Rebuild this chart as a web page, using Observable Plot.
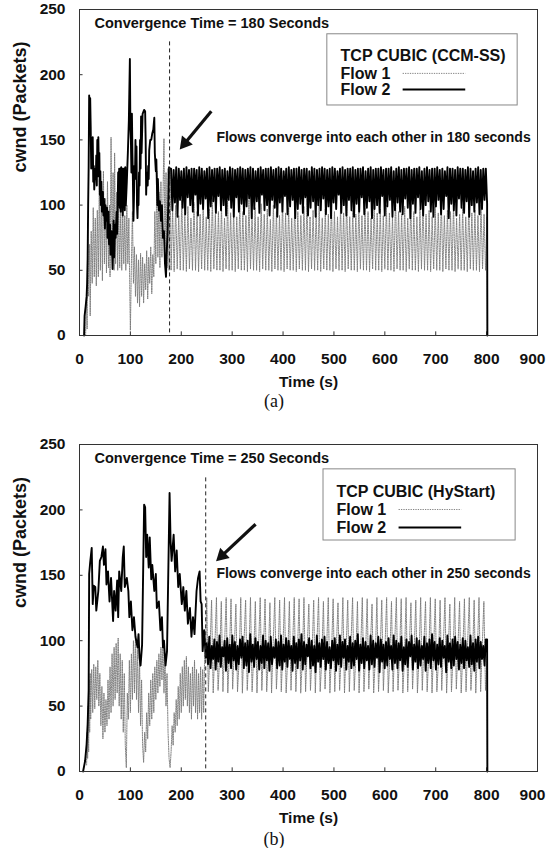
<!DOCTYPE html>
<html><head><meta charset="utf-8">
<script src="https://cdn.jsdelivr.net/npm/d3@7"></script>
<script src="https://cdn.jsdelivr.net/npm/@observablehq/plot@0.6"></script>
<style>
body{margin:0;background:#fff;width:548px;height:848px;position:relative;overflow:hidden;font-family:"Liberation Sans",Arial,sans-serif}
.panel{position:absolute;left:0}
.cap{position:absolute;left:0;width:548px;text-align:center;font-family:"Liberation Serif","Times New Roman",serif;font-size:18px;line-height:20px;color:#111}
</style></head><body>
<div id="pa" class="panel" style="top:0px"></div>
<div class="cap" style="top:391px">(a)</div>
<div id="pb" class="panel" style="top:420px"></div>
<div class="cap" style="top:829px">(b)</div>
<script>
const xTicks = [0,100,200,300,400,500,600,700,800,900];
const yTicks = [0,50,100,150,200,250];

// ---------- Panel (a): TCP CUBIC (CCM-SS) ----------
const flow1aEarly = [[12,0],[14,35],[15,5],[16,86],[18,30],[20,70],[21,15],[23,80],[25,40],[27,98],[29,45],[31,90],[33,38],[35,96],[37,45],[39,120],[41,50],[43,110],[45,42],[47,126],[49,55],[51,105],[53,48],[55,118],[57,52],[59,100],[60,45],[62,152],[64,60],[66,125],[68,50],[69,140],[71,55],[73,110],[75,50],[77,100],[79,52],[81,95],[83,50],[85,98],[87,55],[89,92],[91,50],[93,100],[95,55],[97,90],[99,30],[100,4],[102,55],[104,95],[106,40],[108,68],[110,30],[112,62],[114,25],[116,58],[118,22],[120,63],[122,30],[124,60],[126,25],[128,55],[130,35],[132,65],[134,28],[136,60],[138,40],[140,68],[142,32],[144,62],[146,45],[148,95],[150,55],[152,126],[154,60],[156,110],[158,52],[160,118],[162,60],[164,105],[166,151],[168,58],[170,125],[172,52],[174,128],[176,50],[178,128]];
const flow1aSteady = [50,96,49,100,51,92,50,104,50,94,49,99,51,90,50,102,50,95,49,93,
51,101,50,91,50,97,49,105,51,93,50,95,50,99,49,90,51,103,50,94,
50,96,49,91,51,100,50,95,50,92,49,104,51,94,50,98,50,91,49,101,
51,93,50,97,50,89,49,100,51,95,50,92,50,103,49,94,51,98,50,90,
50,101,49,95,51,92,50,99,50,105,49,91,51,96,50,94,50,100,49,90,
51,97,50,93,50,102,49,95,51,91,50,99,50,94,49,104,51,91,50,96,
50,93,49,101,51,92,50,98,50,95,49,90,51,103,50,94,50,97,49,92,
51,100,50,94,50,91,49,105,51,95,50,93,50,99,49,90,51,101,50,95,
50,91,49,97,51,102,50,93,50,96,49,91,51,99,50,94,50,104,49,92,
51,96,50,95,50,100,49,90,51,93,50,98,50,91,49,101,51,94,50,96,
50,92,49,100,51,93,50,91];
const flow2aEarly = [[9,0],[10,15],[12,22],[14,30],[15,40],[16,58],[17,100],[18,130],[19,184],[20,176],[21,182],[22,160],[23,128],[24,150],[25,135],[26,152],[27,118],[28,130],[29,112],[31,128],[32,120],[33,138],[34,115],[35,150],[36,122],[37,152],[38,128],[39,140],[40,108],[41,126],[42,100],[43,118],[44,95],[46,110],[47,92],[48,105],[50,82],[51,100],[53,88],[54,98],[55,75],[57,95],[58,70],[60,85],[61,62],[63,80],[65,51],[66,70],[67,88],[68,60],[70,85],[71,75],[73,95],[74,78],[75,100],[76,125],[77,100],[78,128],[79,98],[80,128],[81,95],[82,129],[83,100],[84,128],[85,92],[86,128],[87,105],[88,128],[89,96],[90,129],[91,100],[93,118],[95,140],[97,165],[99,212],[100,160],[101,150],[102,125],[103,170],[104,140],[105,118],[106,88],[107,105],[108,130],[109,120],[110,150],[111,125],[112,145],[113,100],[114,90],[115,110],[116,100],[117,125],[118,115],[119,150],[120,128],[121,168],[122,140],[124,170],[127,173],[129,172],[130,150],[131,108],[132,125],[134,115],[135,130],[136,120],[137,142],[139,150],[141,150],[143,155],[145,158],[147,167],[148,140],[150,126],[151,135],[153,100],[154,120],[156,96],[158,103],[160,88],[162,100],[164,75],[166,80],[168,55],[170,45],[171,60],[173,78],[175,110],[176,129],[178,128]];
const flow2aSteady = [128,96,127,102,129,91,128,104,126,98,128,93,129,106,127,100,128,95,128,108,
127,92,129,101,128,97,126,105,128,90,129,99,127,103,128,94,128,107,129,96,
127,100,128,92,126,104,129,98,128,91,127,106,128,95,129,101,128,93,127,99,
128,105,129,90,128,97,126,103,128,94,129,108,127,96,128,100,128,92,129,104,
127,98,128,91,129,102,128,95,126,107,128,93,129,99,127,104,128,90,128,97,
129,101,127,94,128,106,128,92,126,98,129,103,128,91,127,100,128,96,129,105,
128,93,127,99,128,90,129,102,128,97,126,108,128,94,129,100,127,92,128,104,
128,96,129,91,127,101,128,95,128,106,129,93,126,98,128,103,129,90,127,97,
128,100,128,94,129,107,127,92,128,99,128,104,129,91,126,96,128,102,129,95,
127,93,128,105,128,98,129,90,127,101,128,94,128,106,129,97,126,92,128,100,
129,103,127,95,128,91,128,99,129,104,127,93,128,97,126,107,129,90,128,101,
128,96,127,92,129,105,128,98,128,94,127,103,129,91,128,100,126,95,128,102,
129,93,127,97,128,104,128,101];

// ---------- Panel (b): TCP CUBIC (HyStart) ----------
const flow1bEarly = [[14,5],[15,30],[16,10],[17,50],[18,15],[19,70],[20,30],[21,75],[22,40],[24,78],[26,45],[28,82],[30,48],[32,80],[34,55],[36,85],[38,50],[40,75],[42,35],[44,65],[46,25],[48,60],[50,30],[52,55],[54,35],[56,70],[58,40],[60,80],[62,45],[64,90],[66,50],[68,95],[70,55],[72,98],[74,60],[76,102],[78,50],[80,90],[82,40],[84,85],[86,30],[88,75],[90,20],[92,3],[94,60],[96,40],[98,85],[100,45],[102,90],[104,55],[106,100],[108,60],[110,105],[112,55],[114,95],[116,45],[118,85],[120,35],[122,70],[124,20],[126,7],[128,30],[130,15],[132,45],[134,25],[136,60],[138,35],[140,70],[142,40],[144,75],[146,45],[148,80],[150,55],[152,85],[154,60],[156,90],[158,65],[160,95],[162,70],[164,100],[166,60],[168,90],[170,50],[172,75],[174,30],[176,10],[178,3],[180,15],[182,35],[184,20],[186,45],[188,30],[190,55],[192,35],[194,65],[196,40],[198,75],[200,45],[202,80],[204,50],[206,85],[208,55],[210,88],[212,50],[214,80],[216,45],[218,75],[220,40],[222,80],[224,50],[226,85],[228,45],[230,78],[232,40],[234,75],[236,45],[238,80],[240,40],[242,78],[244,45],[246,90],[248,95]];
const flow1bSteady = [133,61,92,131,60,95,133,62,88,130,61,97,133,60,90,132,63,94,128,61,86,133,60,99,131,62,91,133,61,89,
130,60,96,133,62,93,132,61,87,129,60,98,133,63,90,131,61,95,133,60,88,130,62,97,133,61,92,132,60,86,
133,61,94,128,62,90,131,60,99,133,61,87,130,63,95,133,60,91,132,61,96,129,62,89,133,60,93,131,61,98,
133,62,88,130,60,94,133,61,90,132,63,97,128,60,86,133,61,92,131,62,95,133,60,89,130,61,99,133,62,91,
132,60,87,133,61,96,129,63,93,131,60,88,133,62,98,130,61,90,133,60,94,132,61,86,131,62,97,133,60,92,
128,61,89,133,63,95,130,60,91,132,61,99,133,62,87,131,60,93,133,61,96,130,62,90];
const flow2bEarly = [[7,0],[11,8],[14,21],[16,36],[18,62],[19,151],[21,160],[24,171],[26,128],[28,142],[31,141],[33,123],[37,138],[40,161],[43,164],[46,172],[48,158],[51,170],[53,143],[56,153],[59,130],[62,148],[66,115],[68,138],[71,123],[74,146],[76,118],[78,153],[82,138],[85,164],[87,172],[89,141],[93,148],[96,138],[98,118],[101,130],[104,108],[107,118],[110,103],[114,95],[116,105],[118,87],[120,81],[123,97],[127,204],[129,202],[131,164],[133,181],[136,156],[138,179],[141,147],[143,158],[147,138],[150,151],[152,125],[156,130],[159,108],[162,118],[164,95],[166,100],[169,81],[172,92],[177,213],[179,176],[181,161],[185,181],[188,153],[191,169],[194,141],[197,151],[201,128],[204,141],[207,123],[210,138],[213,113],[217,125],[220,103],[223,118],[226,105],[230,138],[233,148],[236,153],[238,130],[240,128],[242,92],[245,108],[248,87]];
const flow2bSteady = [98,82,103,79,96,86,101,78,99,84,104,80,95,88,100,77,102,83,97,79,
104,85,99,78,96,82,101,87,103,79,98,81,100,76,105,84,97,80,102,86,
99,78,96,83,104,79,100,85,98,77,103,82,95,87,101,79,99,81,104,78,
97,84,102,80,100,86,96,77,103,83,98,79,101,85,105,78,99,82,97,88,
102,79,100,81,96,76,104,84,98,80,101,86,103,78,99,83,95,79,100,85,
102,77,97,82,104,80,99,87,101,78,96,84,103,79,98,81,100,86,105,77,
97,83,102,79,99,85,96,78,104,82,100,80,98,87,103,76,101,84,97,79,
99,81,102,86,96,78,104,83,100,79,98,85,103,77,95,82,101,80,99,88,
104,78,97,84,102,79,100,81,96,86,103,77,98,83,101,79,105,85,99,78,
97,82,102,80,100,87,96,76,104,84,98,79,101,81,103,86,99,78,97,83,
102,79,100,85,95,80,104,82,98,77,101,84,103,79,99,86,96,81,101,101];

// ---------- annotations (data coordinates) ----------
const convA = 177, convB = 248;
const titleA = "Convergence Time = 180 Seconds", titleB = "Convergence Time = 250 Seconds";
const noteA = "Flows converge into each other in 180 seconds", noteB = "Flows converge into each other in 250 seconds";
const legendA = "TCP CUBIC (CCM-SS)", legendB = "TCP CUBIC (HyStart)";
const flowNames = ["Flow 1", "Flow 2"];

function pairs(arr){ return arr.map(([t,v]) => ({t, v})); }
function spread(vals, t0, t1){ const n = vals.length; return vals.map((v,i) => ({t: t0 + (t1 - t0) * i / (n - 1), v})); }

function chart(o){
  const f1 = [...pairs(o.f1Early), ...spread(o.f1Steady, o.t0, 801), {t: 801.5, v: 0}];
  const f2 = [...pairs(o.f2Early), ...spread(o.f2Steady, o.t0, 801), {t: 801.5, v: 0}];
  return Plot.plot({
    width: 548, height: o.height, marginLeft: 79, marginRight: 11, marginTop: o.marginTop, marginBottom: 60,
    x: {domain: [0, 900]}, y: {domain: [0, 250]},
    style: {fontFamily: "'Liberation Sans', Arial, sans-serif", fontSize: "15.5px", fontWeight: "bold", color: "#111", background: "white", overflow: "visible"},
    marks: [
      Plot.axisX({ticks: xTicks.slice(0, -1), tickSize: 0, tickPadding: 17, label: null}),
      Plot.axisX({ticks: xTicks.slice(-1), tickSize: 0, tickPadding: 17, dx: -5, label: null}),
      Plot.axisY({ticks: yTicks, tickSize: 0, tickPadding: 14, label: null}),
      Plot.ruleX(xTicks, {x: d => d, y1: 0, y2: 2.8, stroke: "#333"}),
      Plot.ruleY(yTicks, {y: d => d, x1: 0, x2: 7, stroke: "#333"}),
      Plot.line(f1, {x: "t", y: "v", stroke: "#777", strokeWidth: 0.9, strokeDasharray: "1.3,1.1"}),
      Plot.line(f2, {x: "t", y: "v", stroke: "#000", strokeWidth: 1.9}),
      Plot.ruleX([o.conv], {x: d => d, y1: 2, y2: 226, stroke: "#222", strokeDasharray: "4,3"}),
      Plot.link([o.arrow], {x1: "x1", y1: "y1", x2: "hx", y2: "hy", stroke: "#111", strokeWidth: 3.2}),
      Plot.dot([o.arrow], {x: "hx", y: "hy", symbol: "triangle", r: 5.2, fill: "#111", stroke: "none", rotate: o.arrow.rot}),
      Plot.text([o.title], {x: 29.5, y: 239.3, text: d => d, textAnchor: "start", fontSize: 14.5, fontWeight: "bold"}),
      Plot.text([o.note], {x: 269, y: 151.6, text: d => d, textAnchor: "start", fontSize: 14, fontWeight: "bold"}),
      Plot.rect([o.box], {x1: "x1", x2: "x2", y1: "y1", y2: "y2", fill: "white", stroke: "#888", strokeWidth: 1}),
      Plot.text([o.legend], {x: o.box.tx, y: o.box.ty[0], text: d => d, textAnchor: "start", fontSize: 16, fontWeight: "bold"}),
      Plot.text([flowNames[0]], {x: o.box.tx, y: o.box.ty[1], text: d => d, textAnchor: "start", fontSize: 16, fontWeight: "bold"}),
      Plot.text([flowNames[1]], {x: o.box.tx, y: o.box.ty[2], text: d => d, textAnchor: "start", fontSize: 16, fontWeight: "bold"}),
      Plot.link([0], {x1: o.box.lx[0], x2: o.box.lx[1], y1: o.box.ty[1], y2: o.box.ty[1], stroke: "#777", strokeWidth: 0.9, strokeDasharray: "1.3,1.1"}),
      Plot.link([0], {x1: o.box.lx[0], x2: o.box.lx[1], y1: o.box.ty[2], y2: o.box.ty[2], stroke: "#000", strokeWidth: 2}),
      Plot.text(["cwnd (Packets)"], {frameAnchor: "left", dx: -59, rotate: -90, text: d => d, fontSize: 18, fontWeight: "bold"}),
      Plot.text(["Time (s)"], {frameAnchor: "bottom", lineAnchor: "middle", dy: 47, text: d => d, fontSize: 15.5, fontWeight: "bold"}),
      Plot.frame({stroke: "#333", strokeWidth: 1})
    ]
  });
}

document.getElementById("pa").append(chart({
  height: 395, marginTop: 9,
  f1Early: flow1aEarly, f1Steady: flow1aSteady, f2Early: flow2aEarly, f2Steady: flow2aSteady, t0: 180,
  conv: convA, title: titleA, note: noteA, legend: legendA,
  arrow: {x1: 259, y1: 172, hx: 207, hy: 147.5, rot: 219},
  box: {x1: 487, x2: 861, y1: 176.4, y2: 231, tx: 513, ty: [214.7, 201, 188.6], lx: [635, 758]}
}));
document.getElementById("pb").append(chart({
  height: 411, marginTop: 24,
  f1Early: flow1bEarly, f1Steady: flow1bSteady, f2Early: flow2bEarly, f2Steady: flow2bSteady, t0: 250,
  conv: convB, title: titleB, note: noteB, legend: legendB,
  arrow: {x1: 346, y1: 189, hx: 280, hy: 165, rot: 227},
  box: {x1: 479.5, x2: 857, y1: 176.6, y2: 231, tx: 505, ty: [214, 200.3, 186.5], lx: [627, 750]}
}));
</script>
</body></html>
